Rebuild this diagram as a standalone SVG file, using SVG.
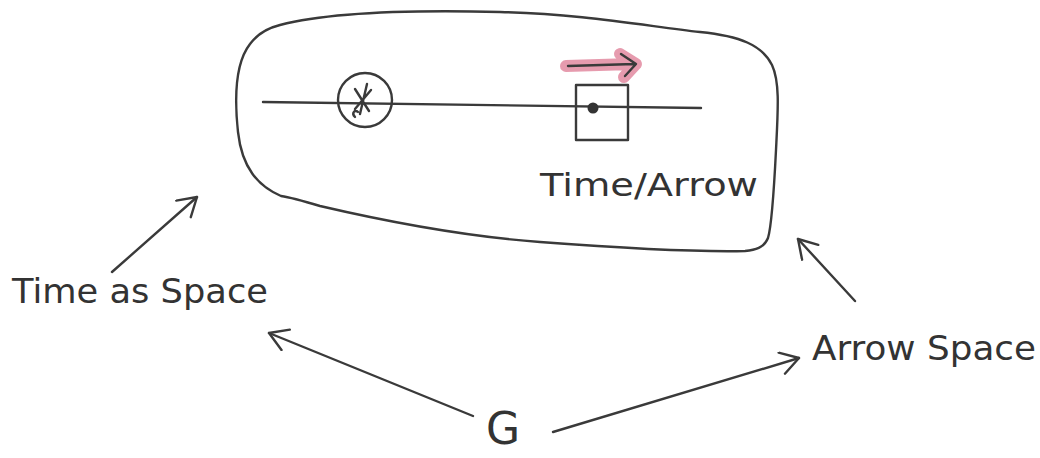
<svg xmlns="http://www.w3.org/2000/svg" width="1040" height="458" viewBox="0 0 1040 458">
<style>
.ink{fill:none;stroke:#3a3a3a;stroke-width:2.4;stroke-linecap:round;stroke-linejoin:round}
.lbl{font-family:"DejaVu Sans","Liberation Sans",sans-serif;fill:#333;font-weight:normal}
</style>
<defs>
<marker id="chev" markerUnits="userSpaceOnUse" markerWidth="30" markerHeight="30" refX="20" refY="12" orient="auto">
<path d="M2,1 L20,12 L2,23" fill="none" stroke="#3a3a3a" stroke-width="2.4" stroke-linecap="round" stroke-linejoin="round"/>
</marker>
</defs>
<rect width="1040" height="458" fill="#ffffff"/>
<g id="space">
<path class="ink" d="M280,25 C330,12 420,10 500,12 C580,14 640,25 700,32 C740,36 762,45 772,65 C780,82 778,110 776,150 C774,190 772,225 768,238 C764,248 755,250 745,251 C700,252 620,248 540,242 C460,236 380,220 320,206 C300,200 288,197 281,196 C258,186 242,168 238,132 C234,95 236,62 250,44 C258,33 268,28 280,25 Z"/>
<path class="ink" d="M263,102 L701,108"/>
<circle class="ink" cx="365" cy="100" r="27"/>
<path class="ink" d="M367,84 L360,114 M355,89 L369,111 M355,109 L371,90 M355,117 C351,113 355,109 358,112"/>
<rect class="ink" x="576" y="85" width="52" height="55"/>
<circle cx="593" cy="108" r="5.5" fill="#333"/>
<path d="M566,66 L632,64 M620,54 L636,64 L624,77" fill="none" stroke="#e28aa0" stroke-width="12" stroke-linecap="round" stroke-linejoin="round" opacity="0.85"/>
<path class="ink" d="M568,66 L634,64 M621,54 L636,64 L625,76"/>
<text class="lbl" x="540" y="196" font-size="32" textLength="218" lengthAdjust="spacingAndGlyphs">Time/Arrow</text>
</g>
<g id="time-as-space">
<text class="lbl" x="12" y="303" font-size="34" textLength="256" lengthAdjust="spacingAndGlyphs">Time as Space</text>
</g>
<g id="arrow-space">
<text class="lbl" x="812" y="360" font-size="34" textLength="224" lengthAdjust="spacingAndGlyphs">Arrow Space</text>
</g>
<g id="g">
<text class="lbl" x="486" y="444" font-size="44">G</text>
</g>
<g id="connectors">
<path class="ink" d="M112,272 L197,197" marker-end="url(#chev)"/>
<path class="ink" d="M473,416 L269,333" marker-end="url(#chev)"/>
<path class="ink" d="M553,432 L799,358" marker-end="url(#chev)"/>
<path class="ink" d="M855,301 L798,239" marker-end="url(#chev)"/>
</g>
</svg>
